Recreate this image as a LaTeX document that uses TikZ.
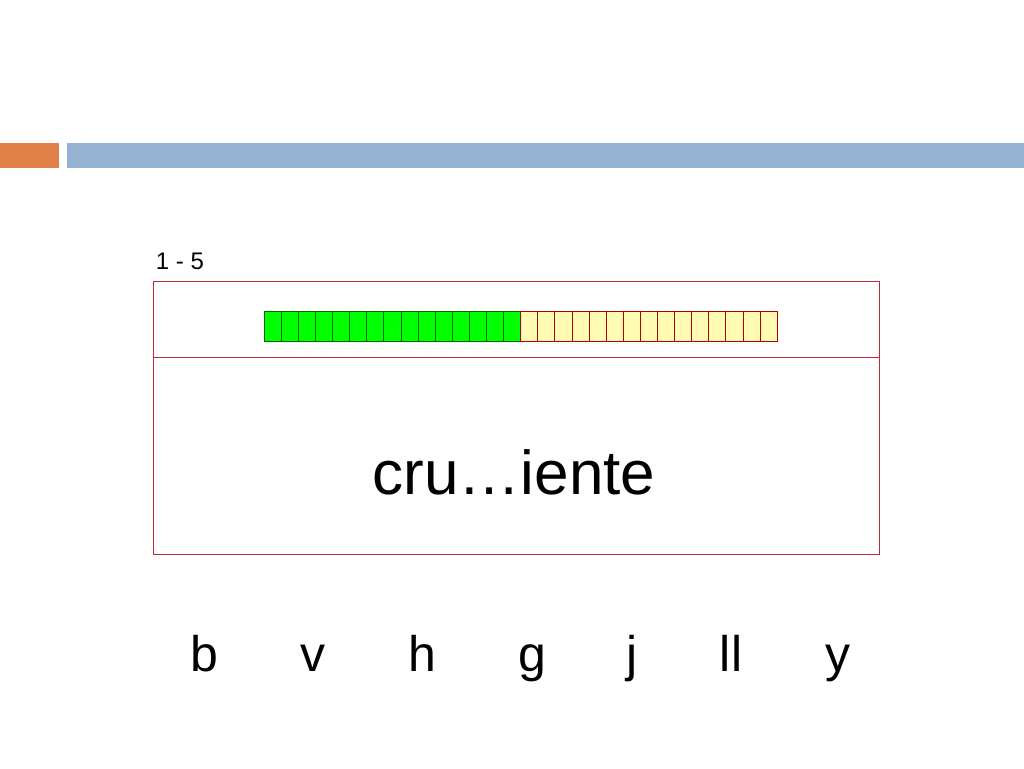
\documentclass[tikz,border=0pt]{standalone}
\usepackage{fontspec}
\setmainfont{Liberation Sans}
\begin{document}
\begin{tikzpicture}[x=1pt,y=-1pt,
  frame/.style={draw={rgb,255:red,192;green,40;blue,60},line width=0.9pt},
  gcell/.style={draw=green!40!black,fill=green,line width=0.5pt},
  ycell/.style={draw=red!70!black,fill=yellow!30,line width=0.5pt},
  letter/.style={font=\fontsize{50}{54}\selectfont,anchor=base}]
\useasboundingbox (0,0) rectangle (1024,768);
\fill[white] (0,0) rectangle (1024,768);
\fill[fill={rgb,255:red,224;green,128;blue,70}] (0,143) rectangle (59,168);
\fill[fill={rgb,255:red,149;green,179;blue,209}] (67,143) rectangle (1024,168);
\node[font=\fontsize{24}{26}\selectfont] (lbl) at (180,261) {1 - 5};
\draw[frame] (153,281) rectangle (879,554);
\draw[frame] (153,357) -- (879,357);
\foreach \i in {0,...,14} {\draw[gcell] (264+\i*17.1,311) rectangle ++(17.1,30);}
\foreach \i in {15,...,29} {\draw[ycell] (264+\i*17.1,311) rectangle ++(17.1,30);}
\node[font=\fontsize{62}{68}\selectfont,anchor=base] (w) at (514,494) {cru…iente};
\foreach \x/\t in {204/b,313/v,422/h,532/g,632/j,731/ll,838/y}
  \node[letter] (l\t) at (\x,671) {\t};
\end{tikzpicture}
\end{document}
